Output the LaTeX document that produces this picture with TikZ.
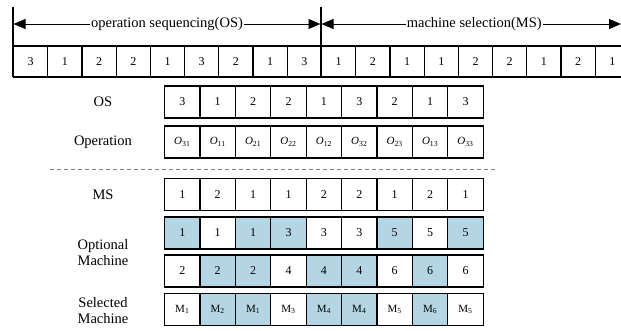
\documentclass[tikz,border=0pt]{standalone}
\usepackage{fontspec}
\setmainfont{Liberation Serif}
\usetikzlibrary{arrows.meta}
\definecolor{cellblue}{RGB}{180,214,228}
\begin{document}
\begin{tikzpicture}[x=1pt,y=-1pt,
  topcell/.style={draw=black, line width=1.2pt, minimum width=34.2pt, minimum height=31pt, inner sep=0pt, anchor=west, font=\fontsize{12}{14}\selectfont},
  cell/.style={draw=black, line width=1.2pt, minimum width=35.4pt, minimum height=32pt, inner sep=0pt, anchor=west, font=\fontsize{12}{14}\selectfont},
  small/.style={font=\fontsize{11}{13}\selectfont},
  shaded/.style={fill=cellblue},
  rowlabel/.style={align=center, font=\fontsize{14.5}{16}\selectfont, inner sep=0pt},
  toplabel/.style={fill=white, inner xsep=1pt, inner ysep=2pt, font=\fontsize{14.5}{16}\selectfont},
  dblarrow/.style={line width=0.8pt, {Triangle[length=12pt,width=10pt]}-{Triangle[length=12pt,width=10pt]}},
  divider/.style={line width=1.5pt}]
\useasboundingbox (0,0) rectangle (621,331);

% top strip
\coordinate (v1t) at (13,7);
\coordinate (v1b) at (13,77);
\coordinate (v2t) at (321,7);
\coordinate (v2b) at (321,77);
\coordinate (a1) at (13.5,24);
\coordinate (a2) at (320.5,24);
\coordinate (a3) at (321.5,24);
\coordinate (a4) at (621,24);

\foreach \v [count=\i] in {3,1,2,2,1,3,2,1,3}
  \node[topcell] (tos\i) at ({13+34.2*(\i-1)},61.5) {\v};
\foreach \v [count=\i] in {1,2,1,1,2,2,1,2,1}
  \node[topcell] (tms\i) at ({321+34.2*(\i-1)},61.5) {\v};

\draw[divider] (v1t) -- (v1b);
\draw[divider] (v2t) -- (v2b);
\draw[dblarrow] (a1) -- (a2) node[toplabel, pos=0.5] (oslab) {operation sequencing(OS)};
\draw[dblarrow] (a3) -- (a4) node[toplabel, pos=0.51] (mslab) {machine selection(MS)};

% row labels
\node[rowlabel] (lOS) at (103,102) {OS};
\node[rowlabel] (lOp) at (103,142) {Operation};
\node[rowlabel] (lMS) at (103,194.5) {MS};
\node[rowlabel] (lOpt) at (103,253) {Optional\\Machine};
\node[rowlabel] (lSel) at (103,311) {Selected\\Machine};

% OS row
\foreach \v [count=\i] in {3,1,2,2,1,3,2,1,3}
  \node[cell] (os\i) at ({164+35.4*(\i-1)},102) {\v};
% Operation row
\foreach \v [count=\i] in {31,11,21,22,12,32,23,13,33}
  \node[cell, small] (op\i) at ({164+35.4*(\i-1)},142) {\textit{O}\textsubscript{\v}};

% dashed separator
\coordinate (dl) at (50,169);
\coordinate (dr) at (498,169);
\draw[dashed, gray, line width=0.7pt, dash pattern=on 4pt off 3pt] (dl) -- (dr);

% MS row
\foreach \v [count=\i] in {1,2,1,1,2,2,1,2,1}
  \node[cell] (ms\i) at ({164+35.4*(\i-1)},194.5) {\v};

% Optional machine rows
\foreach \v/\s [count=\i] in {1/shaded,1/,1/shaded,3/shaded,3/,3/,5/shaded,5/,5/shaded}
  \node[cell, \s] (oa\i) at ({164+35.4*(\i-1)},233) {\v};
\foreach \v/\s [count=\i] in {2/,2/shaded,2/shaded,4/,4/shaded,4/shaded,6/,6/shaded,6/}
  \node[cell, \s] (ob\i) at ({164+35.4*(\i-1)},271) {\v};

% Selected machine row
\foreach \v/\s [count=\i] in {1/,2/shaded,1/shaded,3/,4/shaded,4/shaded,5/,6/shaded,5/}
  \node[cell, small, \s] (sm\i) at ({164+35.4*(\i-1)},309.5) {M\textsubscript{\v}};
\end{tikzpicture}
\end{document}
